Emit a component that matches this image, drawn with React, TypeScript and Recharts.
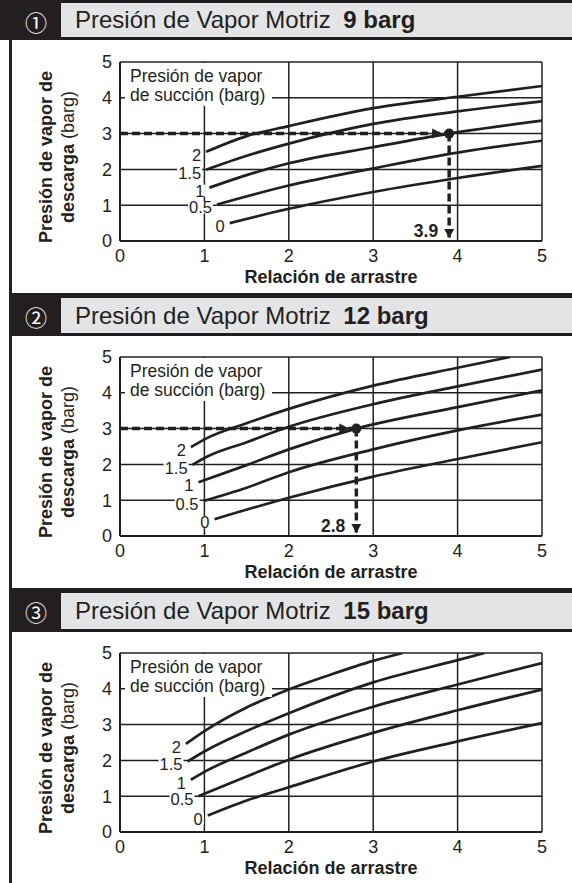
import React from 'react';
import { LineChart, Line, XAxis, YAxis, CartesianGrid, ReferenceLine, ReferenceDot } from 'recharts';

const FONT = '"Liberation Sans", Arial, Helvetica, sans-serif';
const CJK = '"Noto Sans CJK JP", "DejaVu Sans", sans-serif';
const INK = '#231f20';
const BAND = '#e3e4e6';

const AXIS_TICKS = [0, 1, 2, 3, 4, 5];
const PANEL_MARKS = ['①', '②', '③'];
const MOTIVE_LABELS = ['9 barg', '12 barg', '15 barg'];
const SUCTION_LABELS = ['2', '1.5', '1', '0.5', '0'];
const READ_X = [3.9, 2.8, null];
const READ_Y = 3;

// motive steam 9 barg, one array per suction pressure: [drag ratio, discharge pressure]
const M9_S2 = [[1.02, 2.49], [1.5, 2.93], [2, 3.21], [3, 3.71], [4, 4.03], [5, 4.33]];
const M9_S15 = [[1.02, 1.99], [1.5, 2.38], [2, 2.72], [3, 3.27], [4, 3.62], [5, 3.9]];
const M9_S1 = [[1.06, 1.49], [1.5, 1.84], [2, 2.17], [3, 2.62], [3.9, 3.0], [5, 3.36]];
const M9_S05 = [[1.15, 1.02], [2, 1.55], [3, 2.03], [4, 2.47], [5, 2.8]];
const M9_S0 = [[1.3, 0.5], [2, 0.9], [3, 1.37], [4, 1.76], [5, 2.1]];

// 12 barg
const M12_S2 = [[0.84, 2.48], [1, 2.7], [1.5, 3.15], [2, 3.55], [3, 4.2], [4, 4.7], [4.62, 5.0]];
const M12_S15 = [[0.86, 1.99], [1, 2.18], [1.5, 2.62], [2, 3.05], [3, 3.68], [4, 4.18], [5, 4.65]];
const M12_S1 = [[0.93, 1.5], [1.5, 1.98], [2, 2.42], [2.8, 3.0], [4, 3.6], [5, 4.07]];
const M12_S05 = [[0.99, 0.98], [1.5, 1.35], [2, 1.78], [3, 2.42], [4, 2.95], [5, 3.39]];
const M12_S0 = [[1.12, 0.47], [2, 1.07], [3, 1.66], [4, 2.15], [5, 2.62]];

// 15 barg
const M15_S2 = [[0.78, 2.46], [1, 2.82], [1.5, 3.48], [2, 3.98], [2.5, 4.4], [3, 4.78], [3.35, 5.0]];
const M15_S15 = [[0.8, 1.97], [1, 2.25], [1.5, 2.82], [2, 3.32], [3, 4.18], [4, 4.8], [4.32, 5.0]];
const M15_S1 = [[0.84, 1.46], [1, 1.68], [1.5, 2.22], [2, 2.72], [3, 3.5], [4, 4.12], [5, 4.72]];
const M15_S05 = [[0.93, 1.0], [1.5, 1.55], [2, 2.02], [3, 2.77], [4, 3.4], [5, 3.98]];
const M15_S0 = [[1.04, 0.46], [1.5, 0.88], [2, 1.25], [3, 1.97], [4, 2.53], [5, 3.04]];

const CURVES = [
  [M9_S2, M9_S15, M9_S1, M9_S05, M9_S0],
  [M12_S2, M12_S15, M12_S1, M12_S05, M12_S0],
  [M15_S2, M15_S15, M15_S1, M15_S05, M15_S0],
];

// page layout of the three panels
const HEADER_TOP = [0, 293, 588];
const TOP_RULE = [3, 5, 5];
const HEADER_BOTTOM = [37, 333, 629];
const PLOT_GAP = [22, 21, 21];

const toPoints = (pairs: number[][]) => pairs.map(([x, y]) => ({ x, y }));

const textWidth = (s: string, size: number) =>
  s.split('').reduce((w, c) => w + (c === '.' ? 0.278 : 0.556), 0) * size;

function CurveTag({ cx, cy, text }: { cx: number; cy: number; text: string }) {
  const size = 16.5;
  const w = textWidth(text, size);
  const right = cx - 5;
  const mid = cy + 3;
  return (
    <g>
      <rect x={right - w - 1} y={mid - 6} width={w + 2} height={12} fill="#fff" />
      <text x={right} y={mid} textAnchor="end" dominantBaseline="central" fontSize={size} fill={INK}>
        {text}
      </text>
    </g>
  );
}

function SuctionNote({ cx, cy }: { cx: number; cy: number }) {
  return (
    <g>
      <rect x={cx + 5} y={cy + 1} width={147} height={43} fill="#fff" />
      <text x={cx + 10} y={cy + 14} dominantBaseline="central" fontSize={17.5} fill={INK}>Presión de vapor</text>
      <text x={cx + 10} y={cy + 33} dominantBaseline="central" fontSize={17.5} fill={INK}>de succión (barg)</text>
    </g>
  );
}

function ReadDot({ cx, cy }: { cx: number; cy: number }) {
  return (
    <g fill={INK}>
      <circle cx={cx} cy={cy} r={5} />
      <polygon points={`${cx - 7},${cy} ${cx - 17},${cy - 5} ${cx - 17},${cy + 5}`} />
    </g>
  );
}

function ReadArrow({ cx, cy, text }: { cx: number; cy: number; text: string }) {
  return (
    <g fill={INK}>
      <polygon points={`${cx},${cy - 3} ${cx - 5},${cy - 12} ${cx + 5},${cy - 12}`} />
      <text x={cx - 11} y={cy - 10} textAnchor="end" dominantBaseline="central" fontSize={17.5} fontWeight={700}>
        {text}
      </text>
    </g>
  );
}

function Panel({ i }: { i: number }) {
  const top = HEADER_TOP[i];
  const rule = TOP_RULE[i];
  const bottom = HEADER_BOTTOM[i];
  const left = i === 0 ? 0 : 9;
  const chartTop = bottom + 3;
  const plotMid = chartTop + PLOT_GAP[i] + 89.5 + 5;
  const read = READ_X[i];
  const curves = CURVES[i];

  return (
    <>
      <div style={{ position: 'absolute', left, top, width: 572 - left, height: rule, background: INK }} />
      <div
        style={{
          position: 'absolute', left: 61, top: top + rule, width: 511, height: bottom - top - rule,
          background: BAND, display: 'flex', alignItems: 'center',
        }}
      >
        <span style={{ marginLeft: 14, fontSize: 24, whiteSpace: 'nowrap', color: INK }}>
          Presión de Vapor Motriz <b style={{ marginLeft: 6 }}>{MOTIVE_LABELS[i]}</b>
        </span>
      </div>
      <div style={{ position: 'absolute', left, top, width: 61 - left, height: bottom + 3 - top, background: INK }} />
      <div
        style={{
          position: 'absolute', left: 36, top: top + rule + 18, transform: 'translate(-50%, -50%)',
          color: '#fff', fontFamily: CJK, fontSize: 22, lineHeight: 1,
        }}
      >
        {PANEL_MARKS[i]}
      </div>
      <div style={{ position: 'absolute', left, top: bottom, width: 572 - left, height: 3, background: INK }} />

      <div
        style={{
          position: 'absolute', left: 46, top: plotMid, transform: 'translate(-50%, -50%) rotate(-90deg)',
          whiteSpace: 'nowrap', fontSize: 18, fontWeight: 700, lineHeight: 1,
        }}
      >
        Presión de vapor de
      </div>
      <div
        style={{
          position: 'absolute', left: 68, top: plotMid, transform: 'translate(-50%, -50%) rotate(-90deg)',
          whiteSpace: 'nowrap', fontSize: 18, lineHeight: 1,
        }}
      >
        <b>descarga</b> (barg)
      </div>

      <div style={{ position: 'absolute', left: 0, top: chartTop }}>
        <LineChart
          width={572}
          height={255}
          margin={{ top: PLOT_GAP[i], right: 30, bottom: 34 - PLOT_GAP[i], left: 80 }}
          style={{ fontFamily: FONT }}
        >
          <CartesianGrid stroke={INK} strokeWidth={1.5} />
          <XAxis
            type="number"
            dataKey="x"
            domain={[0, 5]}
            ticks={AXIS_TICKS}
            interval={0}
            allowDataOverflow
            tickLine={false}
            axisLine={{ stroke: INK, strokeWidth: 2 }}
            tick={{ fontSize: 18, fill: INK }}
            height={42}
            label={{ value: 'Relación de arrastre', position: 'insideBottom', offset: 0, fontSize: 18, fontWeight: 700, fill: INK }}
          />
          <YAxis
            type="number"
            domain={[0, 5]}
            ticks={AXIS_TICKS}
            interval={0}
            allowDataOverflow
            width={40}
            tickLine={false}
            axisLine={{ stroke: INK, strokeWidth: 2 }}
            tick={{ fontSize: 18, fill: INK }}
          />
          {curves.map((c, k) => (
            <Line
              key={SUCTION_LABELS[k]}
              data={toPoints(c)}
              dataKey="y"
              type="monotone"
              stroke={INK}
              strokeWidth={2.7}
              dot={false}
              activeDot={false}
              isAnimationActive={false}
            />
          ))}
          <ReferenceDot x={0} y={5} r={0} shape={(p: any) => <SuctionNote cx={p.cx} cy={p.cy} />} />
          {curves.map((c, k) => (
            <ReferenceDot
              key={'tag' + k}
              x={c[0][0]}
              y={c[0][1]}
              r={0}
              shape={(p: any) => <CurveTag cx={p.cx} cy={p.cy} text={SUCTION_LABELS[k]} />}
            />
          ))}
          {read != null && (
            <ReferenceLine
              segment={[{ x: 0, y: READ_Y }, { x: read, y: READ_Y }]}
              stroke={INK}
              strokeWidth={3.5}
              strokeDasharray="8 4"
            />
          )}
          {read != null && (
            <ReferenceLine
              segment={[{ x: read, y: READ_Y }, { x: read, y: 0 }]}
              stroke={INK}
              strokeWidth={3.5}
              strokeDasharray="8 4"
            />
          )}
          {read != null && (
            <ReferenceDot x={read} y={READ_Y} r={0} shape={(p: any) => <ReadDot cx={p.cx} cy={p.cy} />} />
          )}
          {read != null && (
            <ReferenceDot x={read} y={0} r={0} shape={(p: any) => <ReadArrow cx={p.cx} cy={p.cy} text={String(read)} />} />
          )}
        </LineChart>
      </div>
    </>
  );
}

export default function App() {
  return (
    <div
      style={{
        position: 'absolute', left: 0, top: 0, width: 572, height: 883, background: '#fff',
        fontFamily: FONT, color: INK, overflow: 'hidden',
      }}
    >
      <div style={{ position: 'absolute', left: 9, top: 37, width: 3, height: 846, background: INK }} />
      {[0, 1, 2].map((i) => (
        <Panel key={i} i={i} />
      ))}
    </div>
  );
}
